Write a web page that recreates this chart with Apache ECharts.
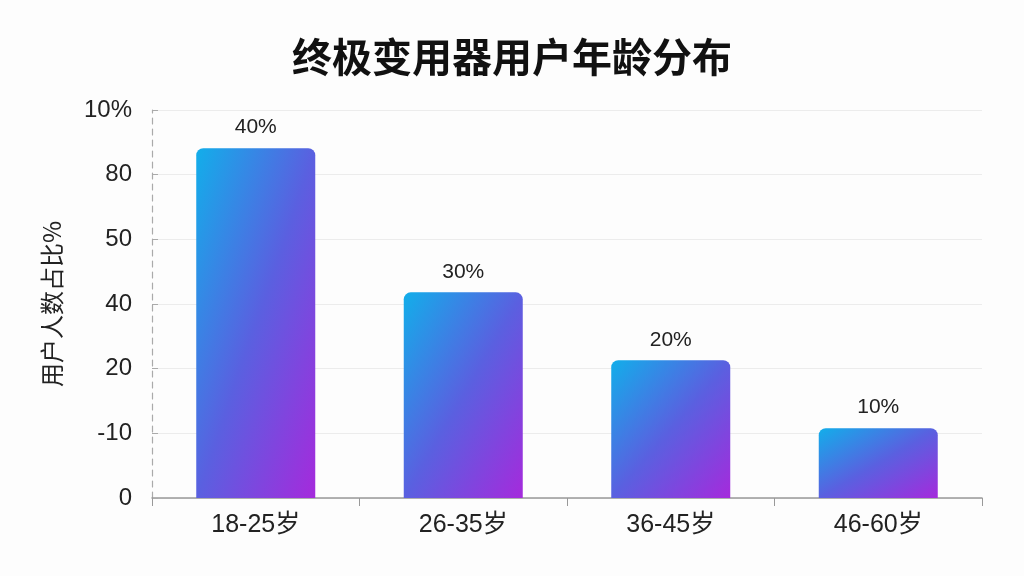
<!DOCTYPE html>
<html>
<head>
<meta charset="utf-8">
<script src="https://cdn.jsdelivr.net/npm/echarts@6/dist/echarts.min.js"></script>
<style>
  html, body { margin: 0; padding: 0; background: #fdfdfd; }
  #chart { width: 1024px; height: 576px; }
</style>
</head>
<body>
<div id="chart"></div>
<script>
// 数据
const categories = ['18-25岁', '26-35岁', '36-45岁', '46-60岁'];
const barHeights = [5.41, 3.18, 2.13, 1.08]; // 按坐标刻度读出的柱高
const barLabels = ['40%', '30%', '20%', '10%'];
const yTickLabels = ['0', '-10', '20', '40', '50', '80', '10%'];

const font = '"Liberation Sans", "Noto Sans CJK SC", sans-serif';
const cjk = '"Noto Sans CJK SC", sans-serif';
const yMax = 6;
const gridH = 388;
const barW = 119;

// 每根柱子的对角渐变：左上青色，右下紫色
function barColor(params) {
    const w = barW;
    const h = params.value / yMax * gridH;
    const d = h * h + w * w;
    return new echarts.graphic.LinearGradient(0, 0, 2 * h * h / d, 2 * w * w / d, [
        { offset: 0, color: '#12aeea' },
        { offset: 0.5, color: '#5a60e0' },
        { offset: 1, color: '#a52adc' }
    ]);
}

const chart = echarts.init(document.getElementById('chart'));
const option = {
    backgroundColor: '#fdfdfd',
    title: {
        text: '终极变用器用户年龄分布',
        left: 'center',
        top: 32,
        textStyle: { fontFamily: cjk, fontSize: 40, fontWeight: 'bold', color: '#111' }
    },
    grid: { left: 152, right: 42, top: 110, bottom: 78 },
    xAxis: {
        type: 'category',
        data: categories,
        axisLine: { lineStyle: { color: '#999', width: 1.5 } },
        axisTick: { show: true, length: 8, lineStyle: { color: '#999' } },
        axisLabel: { fontFamily: font, fontSize: 25, color: '#222', margin: 15 }
    },
    yAxis: {
        type: 'value',
        min: 0,
        max: yMax,
        interval: 1,
        name: '用户人数占比%',
        nameLocation: 'middle',
        nameGap: 88,
        nameTextStyle: { fontFamily: cjk, fontSize: 24, color: '#222' },
        axisLine: { show: true, lineStyle: { color: '#aaa', type: [6, 5], width: 1.2 } },
        axisTick: { show: true, inside: true, length: 6, lineStyle: { color: '#aaa' } },
        axisLabel: {
            fontFamily: font, fontSize: 24, color: '#222', margin: 20,
            formatter: function (v) { return yTickLabels[Math.round(v)]; }
        },
        splitLine: { lineStyle: { color: '#ececec' } }
    },
    series: [{
        type: 'bar',
        data: barHeights,
        barWidth: barW,
        itemStyle: {
            borderRadius: [7, 7, 0, 0],
            color: barColor
        },
        label: {
            show: true,
            position: 'top',
            distance: 10,
            fontFamily: font,
            fontSize: 21,
            color: '#222',
            formatter: function (p) { return barLabels[p.dataIndex]; }
        }
    }]
};
chart.setOption(option);
</script>
</body>
</html>
